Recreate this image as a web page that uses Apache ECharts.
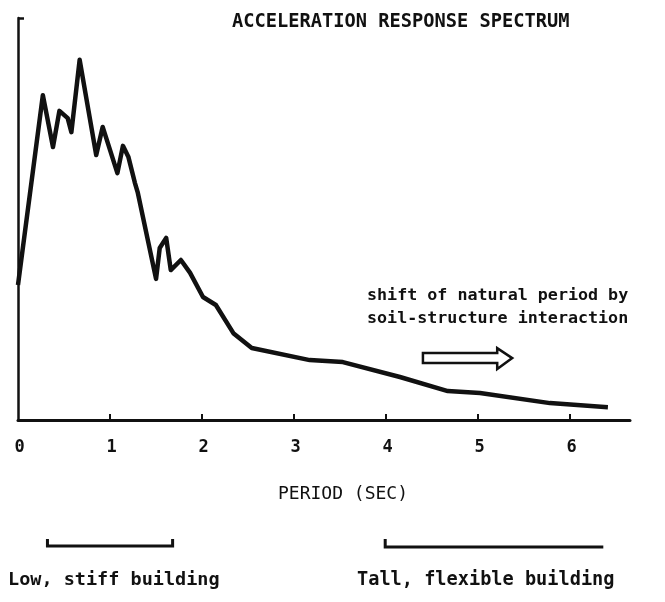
<!DOCTYPE html>
<html>
<head>
<meta charset="utf-8">
<script src="https://cdn.jsdelivr.net/npm/echarts@6/dist/echarts.min.js"></script>
<style>
    html, body { margin: 0; padding: 0; background: #fff; }
    #chart { width: 665px; height: 602px; }
</style>
</head>
<body>
<div id="chart"></div>
<script>
// period (sec) and spectral acceleration (relative units, axis top = 100)
var period = [0, 0.27, 0.38, 0.45, 0.54, 0.58, 0.67, 0.85, 0.92, 1.08, 1.14, 1.20, 1.27, 1.30,
    1.50, 1.54, 1.61, 1.66, 1.77, 1.87, 2.01, 2.15, 2.34, 2.54, 3.17, 3.53, 4.15, 4.67, 5.02, 5.78, 6.41];
var accel = [33.6, 80.8, 67.9, 76.9, 75.1, 71.6, 89.6, 65.9, 72.9, 61.4, 68.2, 65.4, 59.0, 56.7,
    35.1, 42.8, 45.3, 37.3, 39.8, 36.6, 30.6, 28.6, 21.6, 17.9, 14.9, 14.4, 10.7, 7.2, 6.7, 4.2, 3.2];
var xTicks = [0, 1, 2, 3, 4, 5, 6];
var lowRange = [0.32, 1.68];    // low, stiff building
var tallRange = [3.99, 6.36];   // tall, flexible building
var arrowRange = [4.40, 5.37];  // period shift arrow
var arrowLevel = 15.4;

var FONT = 'DejaVu Sans Mono';
var INK = '#111';

var dom = document.getElementById("chart");
var myChart = echarts.init(dom);

var data = [];
for (var i = 0; i < period.length; i++) {
    data.push([period[i], accel[i]]);
}

var option = {
    animation: false,
    backgroundColor: '#fff',
    grid: {left: 18, right: 35, top: 18, bottom: 182},
    xAxis: {
        type: 'value',
        min: 0,
        max: 6.65,
        interval: 1,
        splitLine: {show: false},
        axisLine: {lineStyle: {color: INK, width: 3}},
        axisTick: {
            inside: true, length: 6,
            customValues: xTicks.slice(1),
            lineStyle: {color: INK, width: 2}
        },
        axisLabel: {
            customValues: xTicks,
            margin: 19,
            color: INK,
            fontFamily: FONT,
            fontWeight: 'bold',
            fontSize: 17,
            padding: [0, 0, 0, 3]
        }
    },
    yAxis: {
        type: 'value',
        min: 0,
        max: 100,
        splitLine: {show: false},
        axisLine: {show: true, lineStyle: {color: INK, width: 2.5}},
        axisTick: {
            show: true, inside: true, length: 6,
            customValues: [100],
            lineStyle: {color: INK, width: 2.5}
        },
        axisLabel: {show: false}
    },
    series: [{
        type: 'line',
        data: data,
        showSymbol: false,
        lineStyle: {color: INK, width: 4.5, join: 'round'},
        z: 3
    }]
};
myChart.setOption(option, true);

function px(v) {
    return myChart.convertToPixel({xAxisIndex: 0}, v);
}

function textEl(str, x, y, size, weight) {
    return {
        type: 'text', left: x, top: y,
        style: {text: str, fill: INK, font: weight + ' ' + size + 'px "' + FONT + '"'}
    };
}

var ay = myChart.convertToPixel({yAxisIndex: 0}, arrowLevel);
var a0 = px(arrowRange[0]), a2 = px(arrowRange[1]), a1 = a2 - 15;
var l0 = px(lowRange[0]), l1 = px(lowRange[1]);
var t0 = px(tallRange[0]), t1 = px(tallRange[1]);

myChart.setOption({
    graphic: [
        textEl('ACCELERATION RESPONSE SPECTRUM', 232, 13, 18.7, 'bold'),
        textEl('shift of natural period by', 367, 287, 16.7, 'bold'),
        textEl('soil-structure interaction', 367, 310, 16.7, 'bold'),
        textEl('PERIOD (SEC)', 278, 485, 18, 'normal'),
        textEl('Low, stiff building', 8, 571, 18.5, 'bold'),
        textEl('Tall, flexible building', 357, 571, 18.6, 'bold'),
        {
            type: 'polygon',
            shape: {points: [[a0, ay - 5], [a1, ay - 5], [a1, ay - 10], [a2, ay], [a1, ay + 11], [a1, ay + 5], [a0, ay + 5]]},
            style: {fill: '#fff', stroke: INK, lineWidth: 2.5}
        },
        {
            type: 'polyline',
            shape: {points: [[l0, 539], [l0, 546], [l1, 546], [l1, 539]]},
            style: {fill: null, stroke: INK, lineWidth: 3}
        },
        {
            type: 'polyline',
            shape: {points: [[t0, 539], [t0, 547], [t1, 547]]},
            style: {fill: null, stroke: INK, lineWidth: 3}
        }
    ]
});
</script>
</body>
</html>
